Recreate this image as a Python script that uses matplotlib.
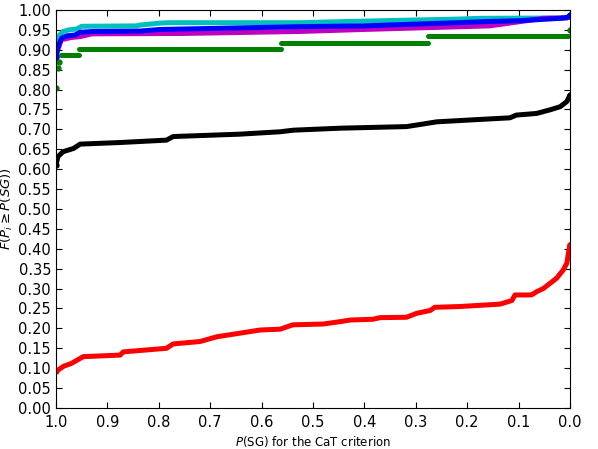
import numpy as np
import matplotlib
matplotlib.use('Agg')
import matplotlib.pyplot as plt

# values (x = P(SG), y = F)
red_x = [1.0, 0.985, 0.97, 0.947, 0.875, 0.869, 0.785, 0.772, 0.72, 0.687, 0.642, 0.603, 0.564, 0.539,
         0.48, 0.447, 0.428, 0.383, 0.37, 0.318, 0.298, 0.272, 0.263, 0.214, 0.175, 0.136,
         0.113, 0.107, 0.075, 0.065, 0.052, 0.039, 0.026, 0.013, 0.006, 0.003, 0.0]
red_y = [0.092, 0.105, 0.112, 0.129, 0.133, 0.141, 0.150, 0.161, 0.167, 0.179, 0.188, 0.196, 0.198, 0.209,
         0.211, 0.217, 0.221, 0.223, 0.227, 0.228, 0.238, 0.245, 0.253, 0.255, 0.258, 0.261,
         0.270, 0.284, 0.284, 0.292, 0.300, 0.313, 0.326, 0.347, 0.364, 0.389, 0.41]

black_x = [1.0, 0.996, 0.986, 0.966, 0.953, 0.875, 0.785, 0.772, 0.642, 0.564, 0.538, 0.447,
           0.318, 0.298, 0.259, 0.175, 0.117, 0.104, 0.065, 0.039, 0.019, 0.006, 0.0]
black_y = [0.611, 0.632, 0.644, 0.652, 0.663, 0.667, 0.673, 0.682, 0.688, 0.694, 0.698, 0.703,
           0.707, 0.711, 0.719, 0.725, 0.729, 0.736, 0.740, 0.749, 0.757, 0.770, 0.786]

green_x = [0.99, 0.955, 0.955, 0.562, 0.562, 0.276, 0.276, 0.003]
green_y = [0.887, 0.887, 0.901, 0.901, 0.918, 0.918, 0.935, 0.935]
green_dots_x = [1.0, 0.996, 0.994, 0.0]
green_dots_y = [0.805, 0.853, 0.870, 0.950]

cyan_x = [1.0, 0.996, 0.986, 0.975, 0.96, 0.95, 0.843, 0.837, 0.798, 0.778, 0.525, 0.434,
          0.22, 0.175, 0.006, 0.0]
cyan_y = [0.908, 0.933, 0.946, 0.950, 0.952, 0.959, 0.960, 0.962, 0.967, 0.968, 0.968, 0.971,
          0.977, 0.979, 0.980, 0.985]

magenta_x = [1.0, 0.99, 0.97, 0.953, 0.93, 0.752, 0.525, 0.402, 0.156, 0.052, 0.006, 0.0]
magenta_y = [0.885, 0.925, 0.931, 0.933, 0.940, 0.941, 0.946, 0.951, 0.960, 0.979, 0.980, 0.986]

blue_x = [1.0, 0.996, 0.989, 0.979, 0.963, 0.953, 0.927, 0.837, 0.798, 0.525, 0.402, 0.22,
          0.162, 0.097, 0.019, 0.003, 0.0]
blue_y = [0.881, 0.908, 0.929, 0.935, 0.937, 0.944, 0.946, 0.947, 0.951, 0.958, 0.960, 0.968,
          0.971, 0.973, 0.979, 0.982, 0.987]

fig = plt.figure(figsize=(5.98, 4.49), dpi=100)
ax = fig.add_axes([0.0936, 0.0913, 0.8595, 0.8865])

LW = 3.6

def curve(x, y, c):
    ax.plot(x, y, '-', color=c, lw=LW, solid_capstyle='round', solid_joinstyle='round')
    ax.plot(x[:1], y[:1], 'o', color=c, ms=3.5, mec=c)
    ax.plot(x[-1:], y[-1:], 'o', color=c, ms=3.5, mec=c)

curve(red_x, red_y, 'red')
curve(black_x, black_y, 'black')
for i in range(0, 8, 2):
    ax.plot(green_x[i:i + 2], green_y[i:i + 2], '-', color='green', lw=LW, solid_capstyle='round')
ax.plot(green_dots_x, green_dots_y, 'o', color='green', ms=3.5, mec='green')
curve(cyan_x, cyan_y, 'c')
curve(magenta_x, magenta_y, 'm')
curve(blue_x, blue_y, 'blue')

ax.set_xlim(1.0, 0.0)
ax.set_ylim(0.0, 1.0)
ax.set_xticks(np.arange(0, 11) / 10)
ax.set_yticks(np.arange(0, 21) / 20)
ax.set_xticklabels(['%.1f' % v for v in np.arange(0, 11) / 10])
ax.set_yticklabels(['%.2f' % v for v in np.arange(0, 21) / 20])
ax.tick_params(direction='in', top=True, right=True, length=4, width=0.8, labelsize=10.5)
ax.tick_params(axis='x', pad=5)
ax.set_xlabel(r'$P$(SG) for the CaT criterion', fontsize=8.5, labelpad=3)
ax.set_ylabel(r'$F(P_i \geq P(SG))$', fontsize=9.5, labelpad=2)

fig.savefig('out.png', dpi=100)
